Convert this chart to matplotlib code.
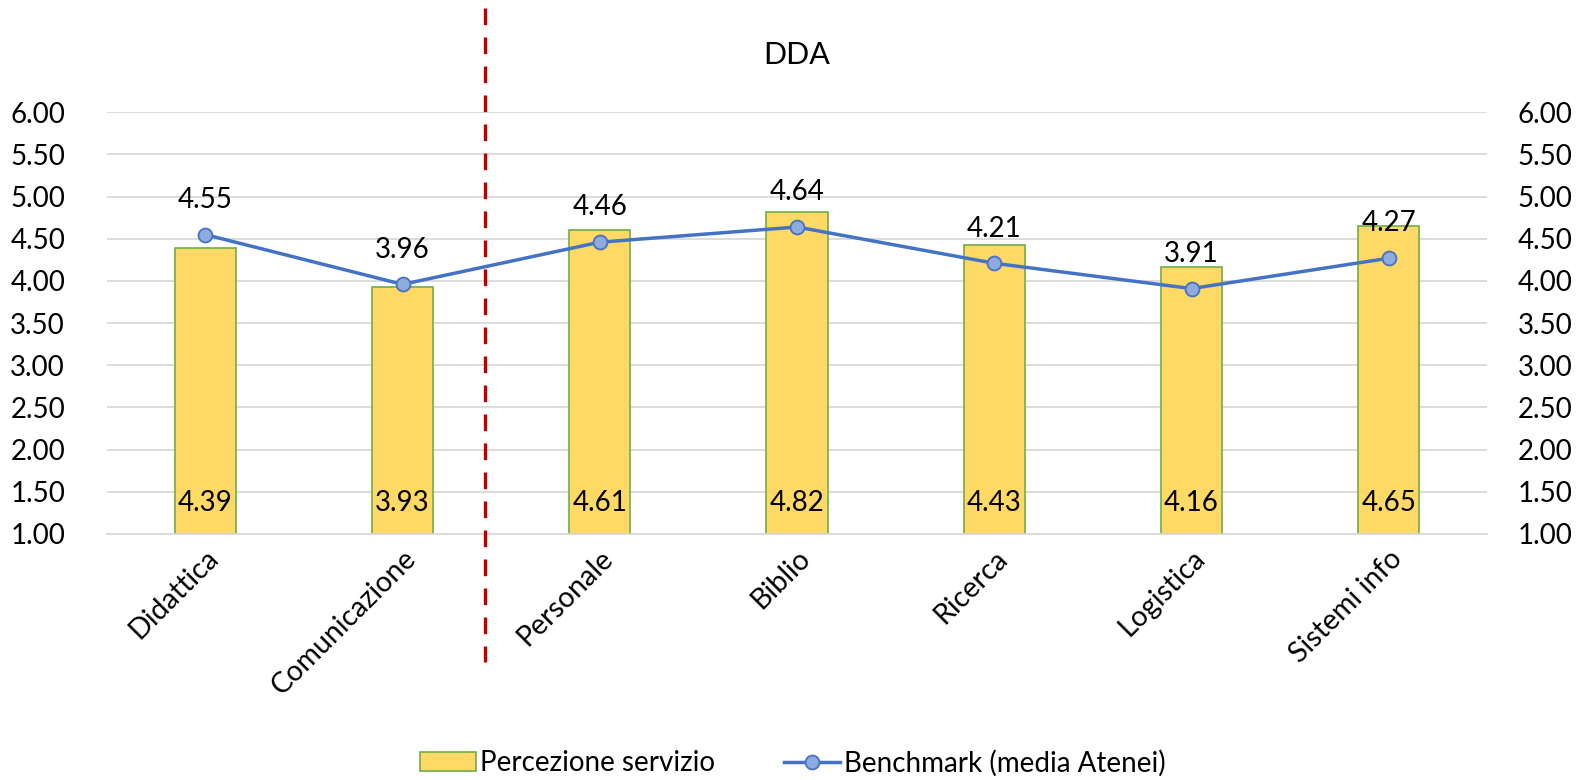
import matplotlib
matplotlib.use("Agg")
import matplotlib.pyplot as plt
import matplotlib.transforms as mtransforms
from matplotlib.lines import Line2D
from matplotlib.patches import Patch

categories = ["Didattica", "Comunicazione", "Personale", "Biblio", "Ricerca", "Logistica", "Sistemi info"]
percezione = [4.39, 3.93, 4.61, 4.82, 4.43, 4.16, 4.65]
benchmark = [4.55, 3.96, 4.46, 4.64, 4.21, 3.91, 4.27]
yticks = [1.0, 1.5, 2.0, 2.5, 3.0, 3.5, 4.0, 4.5, 5.0, 5.5, 6.0]
title = "DDA"
legend_labels = ["Percezione servizio", "Benchmark (media Atenei)"]

plt.rcParams['font.family'] = ['Lato', 'DejaVu Sans']
FS = 20

fig = plt.figure(figsize=(15.86, 7.8), dpi=100)
ax = fig.add_axes([0.0673, 0.3154, 0.8705, 0.5406])
x = list(range(len(categories)))

ax.set_axisbelow(True)
ax.yaxis.grid(True, color="#D9D9D9", lw=1.3)
ax.bar(x, [v - 1.0 for v in percezione], bottom=1.0, width=0.31,
       color="#FFD966", edgecolor="#70AD47", lw=1.2, zorder=2)
ax.plot(x, benchmark, color="#4472C4", lw=2.5, marker="o", ms=10,
        mfc="#8FAADC", mec="#4472C4", mew=1.3, zorder=3)

for xi, v in zip(x, percezione):
    ax.annotate(f"{v:.2f}", (xi, 1.0), xytext=(0, 22), textcoords="offset points",
                ha="center", va="center", fontsize=FS, zorder=4)
for xi, v in zip(x, benchmark):
    ax.annotate(f"{v:.2f}", (xi, v), xytext=(0, 25), textcoords="offset points",
                ha="center", va="center", fontsize=FS, zorder=4)

ax.set_xlim(-0.5, len(categories) - 0.5)
ax.set_ylim(1.0, 6.0)
ax.set_yticks(yticks)
ax.set_yticklabels([f"{t:.2f}" for t in yticks], fontsize=FS)
ax.set_xticks(x)
ax.set_xticklabels(categories, rotation=45, ha="right", rotation_mode="anchor", fontsize=FS + 0.5)
ax.tick_params(axis="both", length=0)
ax.tick_params(axis="y", pad=30)
ax.tick_params(axis="x", pad=8)
for s in ["top", "right", "left"]:
    ax.spines[s].set_visible(False)
ax.spines["bottom"].set_color("#D9D9D9")
ax.spines["bottom"].set_linewidth(1.3)

ax2 = ax.twinx()
ax2.set_ylim(1.0, 6.0)
ax2.set_yticks(yticks)
ax2.set_yticklabels([f"{t:.2f}" for t in yticks], fontsize=FS)
ax2.tick_params(axis="y", length=0, pad=22)
for s in ax2.spines.values():
    s.set_visible(False)

trans = mtransforms.blended_transform_factory(ax.transData, fig.transFigure)
sep = Line2D([1.42, 1.42], [0.99, 0.151], transform=trans, color="#C00000",
             lw=2.4, linestyle=(0, (5.0, 3.7)), clip_on=False)
fig.add_artist(sep)

fig.text(0.5025, 0.929, title, ha="center", va="center", fontsize=22)

handles = [Patch(facecolor="#FFD966", edgecolor="#70AD47", lw=1.2),
           Line2D([], [], color="#4472C4", lw=2.5, marker="o", ms=10,
                  mfc="#8FAADC", mec="#4472C4", mew=1.3)]
fig.legend(handles, legend_labels, loc="center", bbox_to_anchor=(0.5, 0.022),
           ncol=2, frameon=False, fontsize=FS, handlelength=2.0,
           handletextpad=0.15, columnspacing=2.5)

fig.savefig("out.png", dpi=100)
